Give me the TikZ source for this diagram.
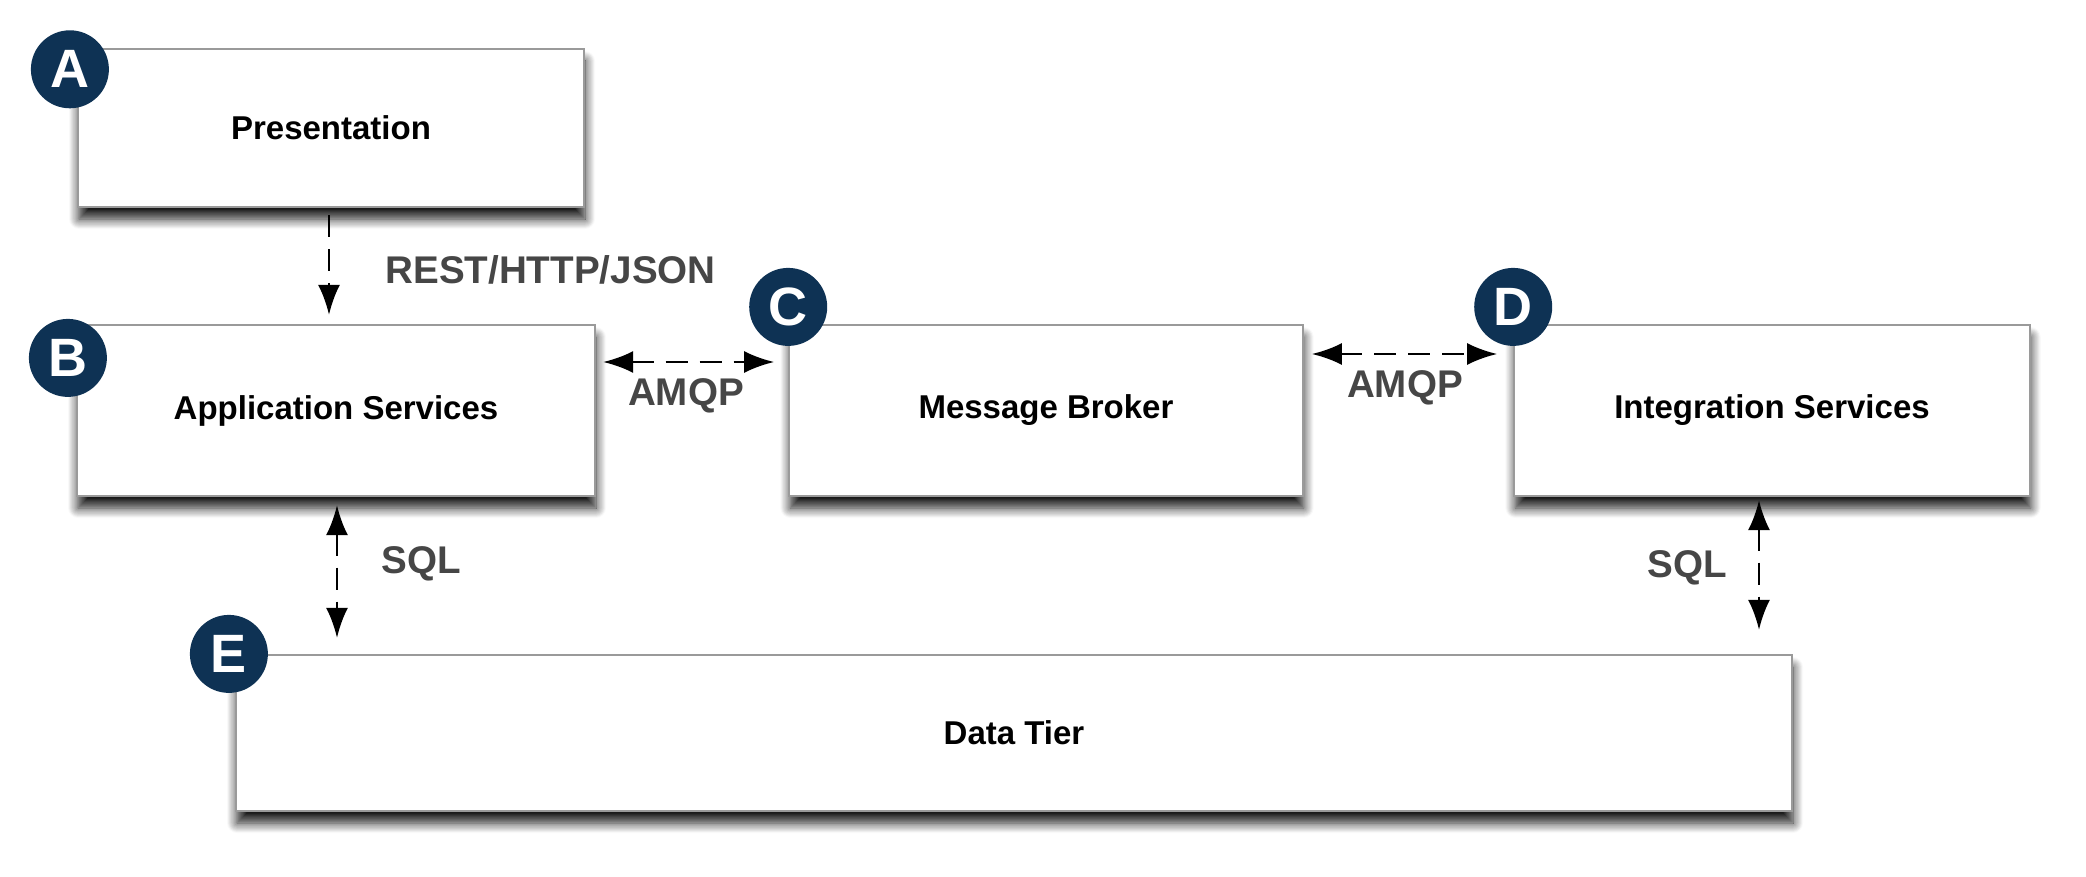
\documentclass[tikz,border=0pt]{standalone}
\usepackage{fontspec}
\setmainfont{Liberation Sans}
\usetikzlibrary{arrows.meta,shadows.blur,calc}
\definecolor{navy}{HTML}{0E3254}
\definecolor{boxline}{HTML}{9A9A9A}
\definecolor{lblgray}{HTML}{464646}
\begin{document}
\begin{tikzpicture}[x=0.5pt,y=-0.5pt,
  tier/.style={draw=boxline, line width=1.1pt, fill=white, inner sep=0pt,
    font=\bfseries\fontsize{16.5}{19}\selectfont,
    blur shadow={shadow xshift=0.5pt, shadow yshift=-6pt, shadow blur radius=5pt, shadow blur steps=10, shadow opacity=90}},
  badge/.style={circle, fill=navy, text=white, minimum size=39pt, inner sep=0pt,
    font=\bfseries\fontsize{27}{30}\selectfont},
  lbl/.style={text=lblgray, inner sep=0pt, font=\bfseries\fontsize{19.3}{22}\selectfont},
  conn/.style={line width=1.4pt, dash pattern=on 11pt off 6pt},
  tip/.style={-{Latex[length=15pt,width=11pt]}},
  tips/.style={{Latex[length=15pt,width=11pt]}-{Latex[length=15pt,width=11pt]}}
]
\useasboundingbox (0,0) rectangle (2086,877);

% boxes
\node[tier, minimum width=253pt, minimum height=79pt] (A) at (331,128) {Presentation};
\node[tier, minimum width=259pt, minimum height=85.5pt] (B) at (336,410.5) {Application Services};
\node[tier, minimum width=256.7pt, minimum height=85.5pt] (C) at (1046,410.5) {Message Broker};
\node[tier, minimum width=257.7pt, minimum height=85.5pt] (D) at (1772,410.5) {Integration Services};
\node[tier, minimum width=778pt, minimum height=78pt] (E) at (1014,733) {Data Tier};

% badges
\node[badge] (bA) at ($(A.north west)+(-3.5pt,-10.7pt)$) {A};
\node[badge] (bB) at ($(B.north west)+(-4pt,-17pt)$) {B};
\node[badge] (bC) at ($(C.north west)+(0pt,8.5pt)$) {C};
\node[badge] (bD) at ($(D.north west)+(0pt,8.5pt)$) {D};
\node[badge] (bE) at ($(E.north west)+(-3pt,0pt)$) {E};

% helper coordinates for connector positions
\coordinate (xab) at (329,0);
\coordinate (ybc) at (0,362);
\coordinate (ycd) at (0,354);
\coordinate (xbe) at (337,0);
\coordinate (xde) at (1759,0);

% connectors
\draw[conn,tip, shorten <=3.5pt, shorten >=4.5pt] (A.south -| xab) -- (B.north -| xab);
\draw[conn,tips, shorten <=3.5pt, shorten >=7pt] (B.east |- ybc) -- (C.west |- ybc);
\draw[conn,tips, shorten <=4pt, shorten >=8pt] (C.east |- ycd) -- (D.west |- ycd);
\draw[conn,tips, shorten <=4pt, shorten >=8pt] (B.south -| xbe) -- (E.north -| xbe);
\draw[conn,tips, shorten <=1.5pt, shorten >=12pt] (D.south -| xde) -- (E.north -| xde);

% labels
\node[lbl, anchor=west] (lrest) at (385,270) {REST/HTTP/JSON};
\node[lbl] (lamqp1) at (686,396) {AMQP};
\node[lbl] (lamqp2) at (1405,388) {AMQP};
\node[lbl] (lsql1) at (421,564) {SQL};
\node[lbl] (lsql2) at (1687,568) {SQL};
\end{tikzpicture}
\end{document}
